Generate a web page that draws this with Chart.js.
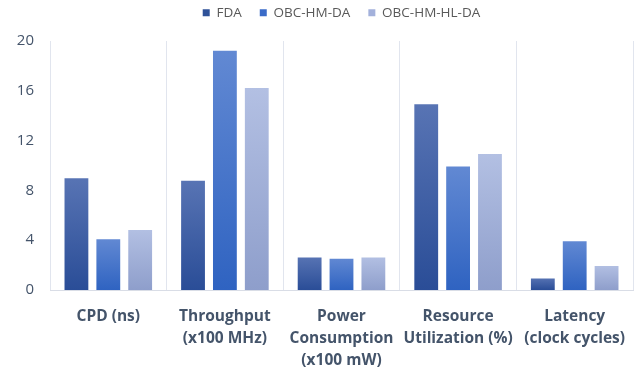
<!DOCTYPE html>
<html>
<head>
<meta charset="utf-8">
<script src="https://cdn.jsdelivr.net/npm/chart.js@4/dist/chart.umd.min.js"></script>
<style>
  html, body { margin: 0; padding: 0; background: #ffffff; }
  #wrap { width: 642px; height: 375px; position: relative; }
</style>
</head>
<body>
<div id="wrap"><canvas id="c" width="642" height="375"></canvas></div>
<script>
// Metric categories (multi-line axis labels)
const categories = [
  ['CPD (ns)'],
  ['Throughput', '(x100 MHz)'],
  ['Power', 'Consumption', '(x100 mW)'],
  ['Resource', 'Utilization (%)'],
  ['Latency', '(clock cycles)']
];

// Series values
const fdaValues = [9.05, 8.85, 2.7, 15, 1];
const obcHmDaValues = [4.15, 19.3, 2.6, 10, 4];
const obcHmHlDaValues = [4.9, 16.3, 2.7, 11, 2];

// Y axis ticks
const yTicks = [0, 4, 8, 12, 16, 20];

const FONT = '"Open Sans", Lato, sans-serif';
const TEXT = '#44546a';

// vertical gradient running from the top of each bar down to its base
function barGradient(topColor, bottomColor) {
  return function (context) {
    const chart = context.chart;
    if (!chart.chartArea || context.raw === undefined) return bottomColor;
    const y = chart.scales.y;
    const yTop = y.getPixelForValue(context.raw);
    const yBase = y.getPixelForValue(0);
    if (!isFinite(yTop) || yTop === yBase) return bottomColor;
    const g = chart.ctx.createLinearGradient(0, yTop, 0, yBase);
    g.addColorStop(0, topColor);
    g.addColorStop(1, bottomColor);
    return g;
  };
}

// keeps the legend band at a fixed height above the plot
const legendHeight = {
  id: 'legendHeight',
  afterInit(chart) {
    const lg = chart.legend;
    if (!lg) return;
    const fit = lg.fit.bind(lg);
    lg.fit = function () {
      fit();
      this.height = 53;
    };
  }
};

const series = [
  { label: 'FDA', data: fdaValues, top: '#5874b4', bottom: '#2a4d97', swatch: '#2f5299' },
  { label: 'OBC-HM-DA', data: obcHmDaValues, top: '#6289d3', bottom: '#2f63c1', swatch: '#3a6bc8' },
  { label: 'OBC-HM-HL-DA', data: obcHmHlDaValues, top: '#b3c0e3', bottom: '#8e9ecb', swatch: '#a3b1db' }
];

new Chart(document.getElementById('c'), {
  type: 'bar',
  data: {
    labels: categories,
    datasets: series.map(s => ({
      label: s.label,
      data: s.data,
      backgroundColor: barGradient(s.top, s.bottom),
      borderColor: 'rgba(255,255,255,0.7)',
      borderWidth: 1,
      categoryPercentage: 0.82,
      barPercentage: 0.81,
      swatch: s.swatch
    }))
  },
  plugins: [legendHeight],
  options: {
    responsive: false,
    animation: false,
    layout: { padding: { left: 0, right: 9, top: -12, bottom: 0 } },
    plugins: {
      tooltip: { enabled: false },
      legend: {
        position: 'top',
        fullSize: false,
        labels: {
          boxWidth: 7,
          boxHeight: 7,
          padding: 18,
          color: '#595959',
          font: { family: FONT, size: 13.5 },
          generateLabels(chart) {
            return chart.data.datasets.map((d, i) => ({
              text: d.label,
              fillStyle: d.swatch,
              strokeStyle: d.swatch,
              lineWidth: 0,
              fontColor: '#595959',
              datasetIndex: i,
              hidden: false
            }));
          }
        }
      }
    },
    scales: {
      x: {
        afterFit(axis) { axis.height = 85; },
        grid: { display: true, offset: true, color: '#e1e5ee', lineWidth: 1, drawTicks: false },
        border: { display: true, color: '#d9dde6' },
        ticks: {
          color: TEXT,
          padding: 16,
          maxRotation: 0,
          autoSkip: false,
          font: { family: FONT, size: 15.5, weight: 'bold', lineHeight: 1.4 }
        }
      },
      y: {
        min: 0,
        max: 20,
        afterBuildTicks(axis) { axis.ticks = yTicks.map(v => ({ value: v })); },
        afterFit(axis) { axis.width = 50; },
        grid: { display: false, drawTicks: false },
        border: { display: false },
        ticks: {
          color: TEXT,
          padding: 16,
          font: { family: FONT, size: 15 }
        }
      }
    }
  }
});
</script>
</body>
</html>
